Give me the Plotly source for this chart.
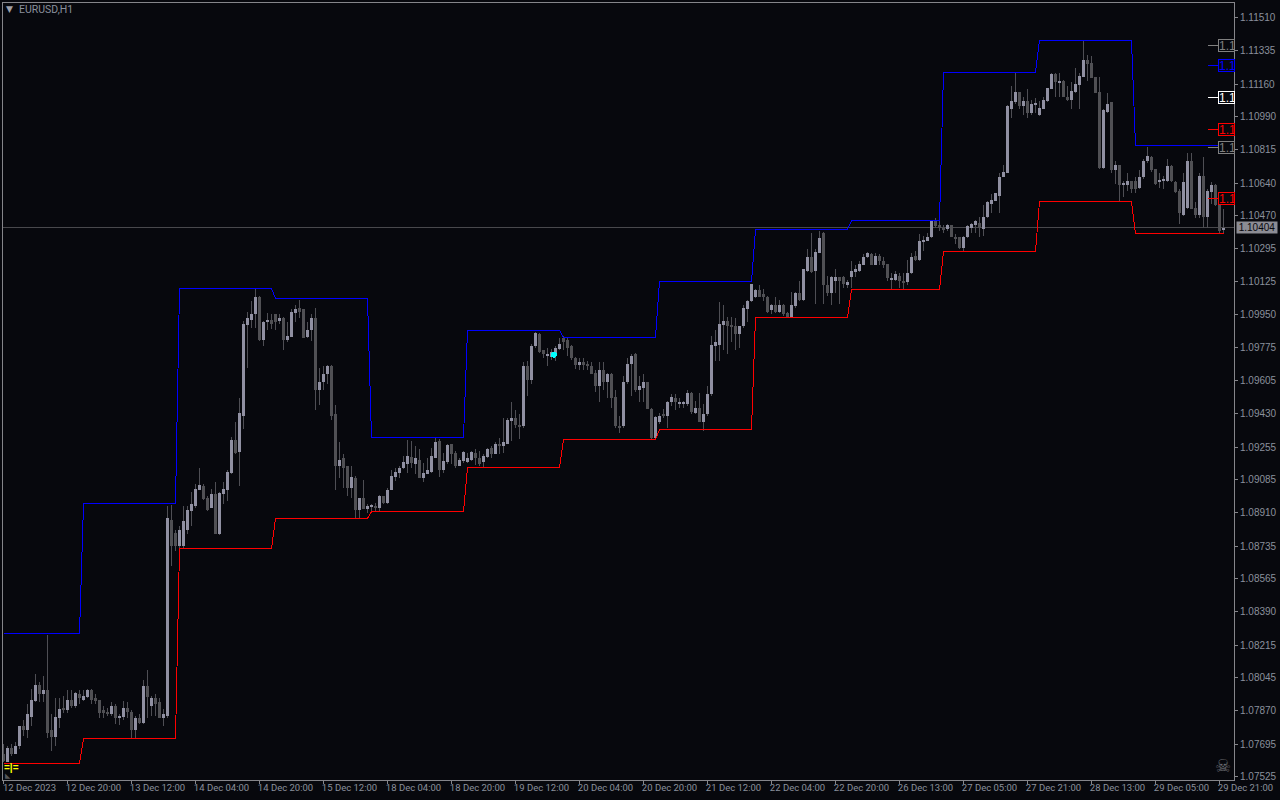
import plotly.graph_objects as go

opens = [1.07641,1.07604,1.07677,1.07646,1.07683,1.07788,1.07767,1.07840,1.07924,1.08008,1.07956,1.07977,1.07767,1.07735,1.07835,1.07887,1.07872,1.07929,1.07893,1.07961,
1.07929,1.07945,1.07977,1.07935,1.07929,1.07872,1.07866,1.07856,1.07898,1.07830,1.07840,1.07887,1.07866,1.07767,1.07835,1.07808,1.08003,1.07898,1.07940,1.07919,
1.07830,1.07845,1.08874,1.08806,1.08738,1.08738,1.08817,1.08921,1.08948,1.09032,1.09053,1.08990,1.08937,1.09011,1.08801,1.09011,1.09032,1.09121,1.09294,1.09231,
1.09420,1.09898,1.09924,1.09951,1.10045,1.09819,1.09914,1.09924,1.09951,1.09919,1.09935,1.09819,1.09835,1.09961,1.09987,1.09977,1.09835,1.09867,1.09935,1.09552,
1.09594,1.09636,1.09683,1.09431,1.09153,1.09195,1.09153,1.09042,1.09095,1.08927,1.08990,1.08932,1.08943,1.08948,1.08937,1.09000,1.08963,1.09032,1.09100,1.09121,
1.09147,1.09168,1.09205,1.09168,1.09189,1.09095,1.09116,1.09126,1.09200,1.09289,1.09132,1.09179,1.09273,1.09226,1.09158,1.09184,1.09179,1.09189,1.09226,1.09200,
1.09179,1.09205,1.09252,1.09221,1.09268,1.09263,1.09273,1.09394,1.09410,1.09373,1.09363,1.09683,1.09609,1.09783,1.09851,1.09762,1.09735,1.09730,1.09751,1.09772,
1.09830,1.09819,1.09788,1.09725,1.09688,1.09699,1.09693,1.09678,1.09646,1.09573,1.09662,1.09599,1.09641,1.09520,1.09368,1.09363,1.09594,1.09693,1.09741,1.09552,
1.09567,1.09594,1.09457,1.09305,1.09389,1.09431,1.09420,1.09489,1.09515,1.09483,1.09483,1.09483,1.09541,1.09436,1.09462,1.09384,1.09426,1.09531,1.09788,1.09793,
1.09898,1.09919,1.09893,1.09893,1.09851,1.09888,1.09982,1.10019,1.10040,1.10077,1.10056,1.10045,1.09972,1.09998,1.09966,1.10003,1.09961,1.09935,1.09993,1.10066,
1.10029,1.10181,1.10255,1.10181,1.10276,1.10381,1.10108,1.10066,1.10124,1.10150,1.10150,1.10108,1.10150,1.10176,1.10181,1.10213,1.10250,1.10266,1.10213,1.10260,
1.10229,1.10218,1.10134,1.10134,1.10155,1.10129,1.10119,1.10166,1.10260,1.10239,1.10334,1.10339,1.10355,1.10439,1.10418,1.10407,1.10397,1.10418,1.10360,1.10355,
1.10302,1.10355,1.10407,1.10423,1.10433,1.10402,1.10460,1.10533,1.10549,1.10575,1.10675,1.10696,1.11032,1.11064,1.11121,1.11043,1.11069,1.11006,1.11053,1.11000,
1.11032,1.11069,1.11137,1.11211,1.11169,1.11179,1.11095,1.11079,1.11121,1.11158,1.11200,1.11289,1.11273,1.11195,1.11121,1.10722,1.11016,1.11064,1.10707,1.10733,
1.10633,1.10633,1.10649,1.10654,1.10617,1.10670,1.10754,1.10780,1.10712,1.10644,1.10654,1.10649,1.10728,1.10644,1.10601,1.10475,1.10512,1.10759,1.10512,1.10475,
1.10680,1.10465,1.10596,1.10633,1.10528,1.10397]

highs = [1.07698,1.07683,1.07698,1.07704,1.07793,1.07824,1.07908,1.07987,1.08066,1.08019,1.08055,1.08270,1.07856,1.07940,1.07935,1.07950,1.07982,1.07977,1.07971,1.07982,
1.07982,1.07987,1.07987,1.07961,1.07929,1.07893,1.07887,1.07914,1.07908,1.07856,1.07924,1.07914,1.07872,1.07845,1.07851,1.08034,1.08087,1.07950,1.07956,1.07940,
1.07882,1.08948,1.08953,1.08817,1.08843,1.08948,1.08943,1.09021,1.09063,1.09147,1.09063,1.09000,1.09037,1.09069,1.09021,1.09069,1.09132,1.09310,1.09389,1.09510,
1.09919,1.09966,1.10024,1.10087,1.10050,1.09919,1.09961,1.09956,1.09956,1.09956,1.09940,1.09909,1.09977,1.10003,1.10029,1.09982,1.09914,1.09951,1.09987,1.09672,
1.09678,1.09688,1.09688,1.09478,1.09279,1.09221,1.09158,1.09158,1.09105,1.08990,1.09084,1.08958,1.08958,1.08963,1.09005,1.09000,1.09042,1.09132,1.09147,1.09158,
1.09210,1.09294,1.09289,1.09263,1.09247,1.09173,1.09200,1.09252,1.09305,1.09299,1.09226,1.09273,1.09273,1.09236,1.09200,1.09236,1.09226,1.09236,1.09247,1.09236,
1.09221,1.09252,1.09263,1.09279,1.09305,1.09405,1.09405,1.09489,1.09447,1.09431,1.09699,1.09709,1.09798,1.09861,1.09856,1.09767,1.09777,1.09772,1.09783,1.09825,
1.09840,1.09825,1.09793,1.09730,1.09725,1.09725,1.09709,1.09699,1.09657,1.09699,1.09704,1.09646,1.09646,1.09557,1.09420,1.09630,1.09725,1.09746,1.09751,1.09630,
1.09636,1.09599,1.09462,1.09420,1.09436,1.09457,1.09499,1.09531,1.09531,1.09510,1.09499,1.09552,1.09546,1.09499,1.09541,1.09483,1.09578,1.09840,1.09867,1.10014,
1.09998,1.09940,1.09940,1.09935,1.09893,1.09998,1.10029,1.10113,1.10087,1.10108,1.10082,1.10050,1.10008,1.10045,1.10029,1.10008,1.09966,1.10071,1.10071,1.10124,
1.10192,1.10292,1.10376,1.10292,1.10391,1.10386,1.10155,1.10155,1.10187,1.10150,1.10155,1.10134,1.10229,1.10208,1.10234,1.10266,1.10281,1.10271,1.10271,1.10266,
1.10255,1.10218,1.10166,1.10181,1.10166,1.10166,1.10239,1.10271,1.10286,1.10371,1.10365,1.10376,1.10449,1.10455,1.10439,1.10418,1.10428,1.10423,1.10371,1.10360,
1.10365,1.10423,1.10433,1.10449,1.10460,1.10523,1.10544,1.10581,1.10591,1.10691,1.10733,1.11048,1.11148,1.11216,1.11121,1.11090,1.11132,1.11079,1.11085,1.11074,
1.11090,1.11142,1.11216,1.11216,1.11216,1.11184,1.11148,1.11169,1.11247,1.11216,1.11384,1.11315,1.11310,1.11195,1.11195,1.11027,1.11111,1.11064,1.10759,1.10733,
1.10654,1.10696,1.10654,1.10670,1.10707,1.10769,1.10832,1.10785,1.10717,1.10691,1.10680,1.10769,1.10738,1.10649,1.10612,1.10696,1.10796,1.10801,1.10539,1.10696,
1.10780,1.10607,1.10644,1.10638,1.10565,1.10502]

lows = [1.07599,1.07599,1.07635,1.07646,1.07672,1.07740,1.07730,1.07793,1.07914,1.07914,1.07914,1.07730,1.07661,1.07683,1.07782,1.07861,1.07861,1.07887,1.07887,1.07908,
1.07924,1.07935,1.07908,1.07908,1.07830,1.07835,1.07845,1.07845,1.07803,1.07798,1.07824,1.07835,1.07725,1.07725,1.07803,1.07803,1.07835,1.07845,1.07845,1.07830,
1.07793,1.07835,1.08633,1.08711,1.08722,1.08722,1.08801,1.08843,1.08937,1.09032,1.08979,1.08921,1.08937,1.08801,1.08795,1.08958,1.08974,1.09116,1.09221,1.09053,
1.09352,1.09672,1.09882,1.09882,1.09814,1.09788,1.09867,1.09877,1.09867,1.09903,1.09762,1.09809,1.09835,1.09909,1.09930,1.09825,1.09830,1.09814,1.09452,1.09478,
1.09552,1.09588,1.09399,1.09027,1.09095,1.09042,1.09000,1.08990,1.08880,1.08880,1.08932,1.08911,1.08921,1.08916,1.08921,1.08958,1.08958,1.09027,1.09079,1.09095,
1.09142,1.09121,1.09147,1.09116,1.09095,1.09069,1.09116,1.09121,1.09200,1.09100,1.09121,1.09168,1.09168,1.09147,1.09153,1.09173,1.09173,1.09184,1.09163,1.09158,
1.09147,1.09200,1.09200,1.09216,1.09221,1.09226,1.09273,1.09289,1.09357,1.09299,1.09357,1.09525,1.09588,1.09777,1.09751,1.09725,1.09683,1.09714,1.09709,1.09762,
1.09762,1.09735,1.09714,1.09667,1.09662,1.09657,1.09662,1.09641,1.09546,1.09494,1.09552,1.09515,1.09462,1.09357,1.09331,1.09357,1.09588,1.09525,1.09546,1.09489,
1.09489,1.09457,1.09299,1.09305,1.09378,1.09410,1.09357,1.09468,1.09447,1.09462,1.09462,1.09473,1.09431,1.09431,1.09384,1.09341,1.09420,1.09525,1.09709,1.09709,
1.09762,1.09746,1.09804,1.09767,1.09777,1.09882,1.09914,1.10014,1.10035,1.10040,1.10024,1.09961,1.09951,1.09961,1.09961,1.09945,1.09935,1.09935,1.09987,1.10024,
1.10024,1.10176,1.10171,1.10008,1.10271,1.10008,1.10050,1.09998,1.10061,1.10008,1.10092,1.10092,1.10092,1.10145,1.10176,1.10208,1.10245,1.10208,1.10208,1.10208,
1.10197,1.10129,1.10087,1.10124,1.10092,1.10082,1.10103,1.10161,1.10234,1.10234,1.10286,1.10334,1.10350,1.10407,1.10391,1.10381,1.10391,1.10355,1.10323,1.10292,
1.10281,1.10350,1.10376,1.10376,1.10355,1.10365,1.10455,1.10481,1.10544,1.10481,1.10670,1.10691,1.10980,1.11058,1.11027,1.11000,1.10980,1.11000,1.11006,1.10995,
1.11032,1.11064,1.11132,1.11090,1.11090,1.11090,1.11069,1.11032,1.11116,1.11032,1.11195,1.11179,1.11190,1.11111,1.10717,1.10717,1.11011,1.10696,1.10638,1.10539,
1.10565,1.10601,1.10591,1.10591,1.10612,1.10664,1.10748,1.10701,1.10628,1.10617,1.10612,1.10644,1.10644,1.10591,1.10428,1.10470,1.10507,1.10507,1.10455,1.10455,
1.10407,1.10407,1.10533,1.10518,1.10376,1.10376]

closes = [1.07609,1.07677,1.07641,1.07688,1.07788,1.07767,1.07851,1.07929,1.08008,1.07956,1.07977,1.07756,1.07735,1.07840,1.07882,1.07872,1.07929,1.07893,1.07966,1.07940,
1.07950,1.07977,1.07929,1.07924,1.07861,1.07861,1.07851,1.07893,1.07830,1.07845,1.07887,1.07866,1.07772,1.07835,1.07808,1.08003,1.07945,1.07940,1.07908,1.07835,
1.07851,1.08880,1.08738,1.08738,1.08817,1.08869,1.08927,1.08958,1.09037,1.09058,1.08984,1.08927,1.09011,1.08801,1.09016,1.09037,1.09126,1.09294,1.09226,1.09436,
1.09903,1.09930,1.09956,1.10045,1.09819,1.09914,1.09924,1.09903,1.09909,1.09930,1.09819,1.09840,1.09966,1.09982,1.09966,1.09830,1.09867,1.09935,1.09552,1.09599,
1.09641,1.09678,1.09420,1.09153,1.09189,1.09147,1.09042,1.09100,1.08927,1.08990,1.08932,1.08948,1.08948,1.08937,1.09000,1.08963,1.09032,1.09105,1.09126,1.09147,
1.09179,1.09210,1.09173,1.09195,1.09095,1.09121,1.09132,1.09210,1.09284,1.09132,1.09184,1.09268,1.09221,1.09158,1.09189,1.09231,1.09200,1.09231,1.09195,1.09168,
1.09210,1.09247,1.09216,1.09273,1.09263,1.09284,1.09399,1.09410,1.09373,1.09363,1.09678,1.09609,1.09788,1.09856,1.09756,1.09741,1.09746,1.09756,1.09777,1.09798,
1.09809,1.09777,1.09720,1.09688,1.09699,1.09688,1.09678,1.09641,1.09578,1.09662,1.09599,1.09636,1.09515,1.09363,1.09357,1.09599,1.09693,1.09735,1.09552,1.09573,
1.09594,1.09457,1.09305,1.09415,1.09420,1.09420,1.09494,1.09520,1.09489,1.09489,1.09489,1.09541,1.09441,1.09462,1.09389,1.09431,1.09536,1.09793,1.09804,1.09903,
1.09919,1.09888,1.09888,1.09851,1.09893,1.09987,1.10024,1.10113,1.10077,1.10045,1.10040,1.09966,1.09998,1.09966,1.09998,1.09956,1.09935,1.09998,1.10066,1.10029,
1.10187,1.10250,1.10176,1.10281,1.10350,1.10103,1.10061,1.10150,1.10150,1.10124,1.10113,1.10119,1.10181,1.10187,1.10218,1.10255,1.10271,1.10213,1.10260,1.10229,
1.10213,1.10140,1.10140,1.10161,1.10129,1.10119,1.10171,1.10255,1.10239,1.10339,1.10344,1.10360,1.10439,1.10413,1.10407,1.10397,1.10418,1.10355,1.10350,1.10302,
1.10360,1.10413,1.10428,1.10439,1.10407,1.10465,1.10539,1.10554,1.10586,1.10675,1.10701,1.11043,1.11069,1.11121,1.11043,1.11074,1.11006,1.11058,1.11058,1.11037,
1.11079,1.11142,1.11211,1.11169,1.11179,1.11090,1.11079,1.11126,1.11163,1.11205,1.11289,1.11268,1.11190,1.11116,1.10722,1.11022,1.11058,1.10707,1.10733,1.10628,
1.10638,1.10649,1.10612,1.10612,1.10675,1.10759,1.10785,1.10707,1.10638,1.10659,1.10659,1.10728,1.10649,1.10596,1.10481,1.10644,1.10759,1.10507,1.10475,1.10680,
1.10460,1.10601,1.10633,1.10523,1.10391,1.10407]

segment_start = [0,20,44,68,92,116,140,164,188,212,235,259,283]
segment_end = [19,43,67,91,115,139,163,187,211,234,258,282,305]
upper_levels = [1.08276,1.08958,1.10087,1.10035,1.09305,1.09867,1.09830,1.10124,1.10397,1.10444,1.11221,1.11389,1.10838]
lower_levels = [1.07593,1.07724,1.08722,1.08880,1.08916,1.09147,1.09294,1.09347,1.09935,1.10082,1.10281,1.10544,1.10376]

tick_bars = list(range(0, 305, 16))
x_labels = ["12 Dec 2023","12 Dec 20:00","13 Dec 12:00","14 Dec 04:00","14 Dec 20:00","15 Dec 12:00","18 Dec 04:00",
            "18 Dec 20:00","19 Dec 12:00","20 Dec 04:00","20 Dec 20:00","21 Dec 12:00","22 Dec 04:00","22 Dec 20:00",
            "26 Dec 13:00","27 Dec 05:00","27 Dec 21:00","28 Dec 13:00","29 Dec 05:00","29 Dec 21:00"]
y_ticks = [1.11510,1.11335,1.11160,1.10990,1.10815,1.10640,1.10470,1.10295,1.10125,1.09950,1.09775,1.09605,
           1.09430,1.09255,1.09085,1.08910,1.08735,1.08565,1.08390,1.08215,1.08045,1.07870,1.07695,1.07525]

last_price = 1.10407
last_price_text = "1.10404"
marker_bar = 137.6
marker_price = 1.09740
level_prices = [1.11363,1.11260,1.11092,1.10924,1.10830,1.10559]
level_colors = ["#808080","#0000ff","#ffffff","#ff0000","#808080","#ff0000"]
level_texts = ["1.1","1.1","1.1","1.1","1.1","1.1"]

assert len(opens) == len(highs) == len(lows) == len(closes) == 306, (len(opens), len(highs), len(lows), len(closes))

BG = "#07080d"
UP = "#9090a2"
DOWN = "#505054"
WICK = "#4e4e54"
TXT = "#8a909c"
FRAME = "#85858a"

bars = list(range(len(opens)))
W, H = 1280, 800
L, R, T, B = 3, 46, 3, 20
pw, ph = W - L - R, H - T - B

fig = go.Figure()
fig.add_trace(go.Bar(x=bars, base=lows, y=[h - l for h, l in zip(highs, lows)], width=0.25,
                     marker=dict(color=WICK, line_width=0)))
fig.add_trace(go.Bar(x=bars, base=[min(o, c) for o, c in zip(opens, closes)],
                     y=[abs(c - o) for o, c in zip(opens, closes)], width=0.75,
                     marker=dict(color=[UP if c >= o else DOWN for o, c in zip(opens, closes)], line_width=0)))


def step_xy(levels):
    xs, ys = [], []
    for s, e, v in zip(segment_start, segment_end, levels):
        xs += [s, e]
        ys += [v, v]
    return xs, ys


ux, uy = step_xy(upper_levels)
lx, ly = step_xy(lower_levels)
fig.add_trace(go.Scatter(x=ux, y=uy, mode="lines", line=dict(color="#0000ff", width=1)))
fig.add_trace(go.Scatter(x=lx, y=ly, mode="lines", line=dict(color="#ff0000", width=1)))
fig.add_trace(go.Scatter(x=[marker_bar], y=[marker_price], mode="markers",
                         marker=dict(color="#00ffff", size=6, line_width=0)))

shapes = [dict(type="line", xref="paper", x0=0, x1=1, yref="y", y0=last_price, y1=last_price,
               line=dict(color="#48484c", width=1), layer="below")]
anns = []


def px_x(p):
    return (p - L) / pw


def px_y(p):
    return 1 - (p - T) / ph


for price, col, txt in zip(level_prices, level_colors, level_texts):
    shapes.append(dict(type="line", xref="paper", x0=px_x(1208), x1=px_x(1218), yref="y", y0=price, y1=price,
                       line=dict(color=col, width=1)))
    anns.append(dict(xref="paper", x=px_x(1218), yref="y", y=price, text=txt, showarrow=False, xanchor="left",
                     yanchor="middle", width=15, height=11, align="left", borderwidth=1, borderpad=0, bordercolor=col,
                     bgcolor=BG, font=dict(family="Liberation Sans", size=12, color=col)))

anns += [
    dict(xref="paper", x=px_x(17), yref="paper", y=px_y(9.5), text="EURUSD,H1", showarrow=False, xanchor="left",
         yanchor="middle", font=dict(family="Roboto", size=10.5, color=TXT)),
    dict(xref="paper", x=px_x(9.5), yref="paper", y=px_y(9.5), text="▼", showarrow=False, xanchor="center",
         yanchor="middle", font=dict(family="DejaVu Sans", size=9, color="#a0a0a8")),
    dict(xref="paper", x=px_x(1236), yref="y", y=last_price, text=last_price_text, showarrow=False, xanchor="left",
         yanchor="middle", width=40, height=11, borderpad=0, bgcolor="#8c8c94",
         font=dict(family="Liberation Sans", size=10, color="#08080d")),
    dict(xref="paper", x=px_x(1223), yref="paper", y=px_y(765), text="☠", showarrow=False, xanchor="center",
         yanchor="middle", font=dict(family="DejaVu Sans", size=18, color="#6a6a70")),
    dict(xref="paper", x=px_x(2), yref="paper", y=px_y(767), text="<b>=|=</b>", showarrow=False, xanchor="left",
         yanchor="middle", font=dict(family="Liberation Sans", size=10, color="#ffff00")),
    dict(xref="paper", x=px_x(3), yref="paper", y=px_y(776), text="◣", showarrow=False, xanchor="left",
         yanchor="middle", font=dict(family="DejaVu Sans", size=7, color="#56565a")),
]

x_font = dict(family="Roboto", size=9.5, color=TXT)
y_font = dict(family="Liberation Sans", size=10, color=TXT)
fig.update_layout(
    width=W, height=H, margin=dict(l=L, r=R, t=T, b=B, pad=0), autosize=False,
    paper_bgcolor=BG, plot_bgcolor=BG, showlegend=False, hovermode=False, barmode="overlay", bargap=0,
    shapes=shapes, annotations=anns,
    xaxis=dict(range=[-0.125, 307.625], tickmode="array", tickvals=tick_bars, ticktext=x_labels, ticks="outside",
               ticklen=3, tickcolor=FRAME, tickwidth=1, showgrid=False, zeroline=False, showline=True, mirror=True,
               linecolor=FRAME, linewidth=1, tickfont=x_font, tickangle=0, ticklabelshift=26,
               ticklabelstandoff=-4, automargin=False),
    yaxis=dict(range=[1.07507, 1.11586], side="right", tickmode="array", tickvals=y_ticks,
               ticktext=[f"{v:.5f}" for v in y_ticks], ticks="outside", ticklen=3, tickcolor=FRAME, tickwidth=1,
               showgrid=False, zeroline=False, showline=True, mirror=True, linecolor=FRAME, linewidth=1,
               tickfont=y_font, automargin=False),
)

post = """
document.documentElement.style.background='%s';
document.body.style.margin='0';
document.body.style.background='%s';
document.body.style.overflow='hidden';
var s=document.createElement('style');
s.textContent='.scatterlayer path,.barlayer path,.shapelayer path{shape-rendering:crispEdges !important}';
document.head.appendChild(s);
""" % (BG, BG)
fig.write_html("out.html", post_script=post, config={"displayModeBar": False})
